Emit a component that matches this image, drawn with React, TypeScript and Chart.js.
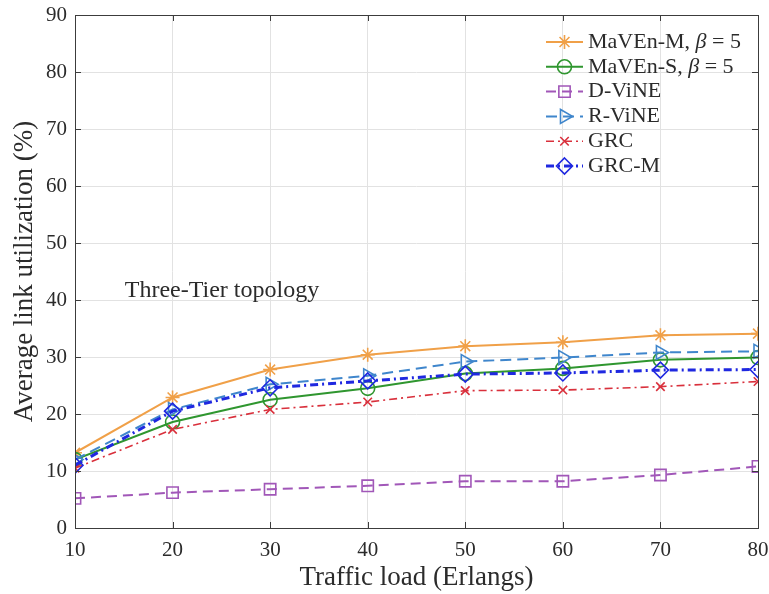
import React, { useEffect, useRef } from "react";
import { Chart, registerables } from "chart.js";

Chart.register(...registerables);

// Traffic load (Erlangs) on the x axis
const loads = [10, 20, 30, 40, 50, 60, 70, 80];

// Average link utilization (%) per algorithm
const mavenM = [13.2, 22.9, 27.8, 30.4, 31.9, 32.6, 33.8, 34.1];
const mavenS = [12.0, 18.6, 22.5, 24.5, 27.1, 28.0, 29.5, 29.9];
const dVine = [5.2, 6.2, 6.8, 7.4, 8.2, 8.2, 9.3, 10.8];
const rVine = [12.0, 20.8, 25.2, 26.7, 29.2, 29.9, 30.8, 31.0];
const grc = [10.5, 17.3, 20.8, 22.1, 24.1, 24.2, 24.8, 25.7];
const grcM = [11.0, 20.5, 24.6, 25.8, 27.0, 27.2, 27.7, 27.8];

const seriesLabels = ["MaVEn-M, β = 5", "MaVEn-S, β = 5", "D-ViNE", "R-ViNE", "GRC", "GRC-M"];
const seriesValues = [mavenM, mavenS, dVine, rVine, grc, grcM];

const yTickValues = [0, 10, 20, 30, 40, 50, 60, 70, 80, 90];
const xTickValues = loads;

const annotationText = "Three-Tier topology";
const xTitle = "Traffic load (Erlangs)";
const yTitle = "Average link utilization (%)";

const FONT = "'Liberation Serif', 'DejaVu Serif', serif";
const TEXT = "#2b2b2b";
const GRID = "#e2e2e2";
const FRAME = "#3c3c3c";

type Style = {
  color: string;
  dash: number[];
  width: number;
  marker: string;
  radius: number;
  rotation: number;
};

const styles: Style[] = [
  { color: "#f0a048", dash: [], width: 2, marker: "star", radius: 7, rotation: 0 },
  { color: "#2f962f", dash: [], width: 2, marker: "circle", radius: 7, rotation: 0 },
  { color: "#a157b8", dash: [10, 6], width: 2, marker: "rect", radius: 8, rotation: 0 },
  { color: "#3f86cc", dash: [11, 6], width: 2, marker: "triangle", radius: 8, rotation: 90 },
  { color: "#d9303c", dash: [8, 4, 2, 4], width: 1.6, marker: "crossRot", radius: 6, rotation: 0 },
  { color: "#1f28e0", dash: [8, 4, 2, 4], width: 3, marker: "rectRot", radius: 8, rotation: 0 },
];

function drawMarker(ctx: CanvasRenderingContext2D, s: Style, x: number, y: number) {
  const r = s.radius;
  ctx.beginPath();
  switch (s.marker) {
    case "circle":
      ctx.arc(x, y, r, 0, Math.PI * 2);
      break;
    case "rect": {
      const h = r * Math.SQRT1_2;
      ctx.rect(x - h, y - h, 2 * h, 2 * h);
      break;
    }
    case "rectRot":
      ctx.moveTo(x, y - r);
      ctx.lineTo(x + r, y);
      ctx.lineTo(x, y + r);
      ctx.lineTo(x - r, y);
      ctx.closePath();
      break;
    case "triangle":
      ctx.moveTo(x + r, y);
      ctx.lineTo(x - r / 2, y - r * 0.866);
      ctx.lineTo(x - r / 2, y + r * 0.866);
      ctx.closePath();
      break;
    case "crossRot": {
      const d = r * Math.SQRT1_2;
      ctx.moveTo(x - d, y - d);
      ctx.lineTo(x + d, y + d);
      ctx.moveTo(x - d, y + d);
      ctx.lineTo(x + d, y - d);
      break;
    }
    case "star": {
      const d = r * Math.SQRT1_2;
      ctx.moveTo(x - r, y);
      ctx.lineTo(x + r, y);
      ctx.moveTo(x, y - r);
      ctx.lineTo(x, y + r);
      ctx.moveTo(x - d, y - d);
      ctx.lineTo(x + d, y + d);
      ctx.moveTo(x - d, y + d);
      ctx.lineTo(x + d, y - d);
      break;
    }
  }
  ctx.stroke();
}

// Box frame with inward tick marks, axis titles, legend and in-plot caption
const decorPlugin = {
  id: "decor",
  afterDatasetsDraw(chart: any) {
    const ctx: CanvasRenderingContext2D = chart.ctx;
    const { left, right, top, bottom } = chart.chartArea;
    const xs = chart.scales.x;
    const ys = chart.scales.y;
    ctx.save();

    // frame
    ctx.strokeStyle = FRAME;
    ctx.lineWidth = 1;
    ctx.setLineDash([]);
    ctx.strokeRect(Math.round(left) + 0.5, Math.round(top) + 0.5, Math.round(right - left), Math.round(bottom - top));

    // inward ticks on all four sides
    const tl = 6;
    ctx.beginPath();
    xTickValues.forEach((v) => {
      const px = Math.round(xs.getPixelForValue(v)) + 0.5;
      ctx.moveTo(px, bottom);
      ctx.lineTo(px, bottom - tl);
      ctx.moveTo(px, top);
      ctx.lineTo(px, top + tl);
    });
    yTickValues.forEach((v) => {
      const py = Math.round(ys.getPixelForValue(v)) + 0.5;
      ctx.moveTo(left, py);
      ctx.lineTo(left + tl, py);
      ctx.moveTo(right, py);
      ctx.lineTo(right - tl, py);
    });
    ctx.stroke();

    // axis titles
    ctx.fillStyle = TEXT;
    ctx.font = `27px ${FONT}`;
    ctx.textAlign = "center";
    ctx.textBaseline = "middle";
    ctx.fillText(xTitle, (left + right) / 2, 578);
    ctx.save();
    ctx.translate(25, (top + bottom) / 2);
    ctx.rotate(-Math.PI / 2);
    ctx.fillText(yTitle, 0, 0);
    ctx.restore();

    // caption inside the plot
    ctx.font = `24px ${FONT}`;
    ctx.textAlign = "left";
    ctx.fillText(annotationText, xs.getPixelForValue(15.1), ys.getPixelForValue(41.6));

    // legend
    const lx0 = right - 212;
    const lx1 = right - 175;
    const mx = (lx0 + lx1) / 2;
    const tx = right - 170;
    const rowTop = top + 27;
    const rowGap = 24.8;
    const lf = 22;
    seriesLabels.forEach((label, i) => {
      const s = styles[i];
      const y = rowTop + i * rowGap;
      ctx.strokeStyle = s.color;
      ctx.lineWidth = s.width;
      ctx.setLineDash(s.dash);
      ctx.beginPath();
      ctx.moveTo(lx0, y);
      ctx.lineTo(lx1, y);
      ctx.stroke();
      ctx.setLineDash([]);
      ctx.lineWidth = 1.6;
      drawMarker(ctx, s, mx, y);

      ctx.fillStyle = TEXT;
      const parts = label.split("β");
      if (parts.length === 2) {
        ctx.font = `${lf}px ${FONT}`;
        ctx.fillText(parts[0], tx, y);
        let x = tx + ctx.measureText(parts[0]).width;
        ctx.font = `italic ${lf}px ${FONT}`;
        ctx.fillText("β", x, y);
        x += ctx.measureText("β").width;
        ctx.font = `${lf}px ${FONT}`;
        ctx.fillText(parts[1], x, y);
      } else {
        ctx.font = `${lf}px ${FONT}`;
        ctx.fillText(label, tx, y);
      }
    });
    ctx.restore();
  },
};

export default function App() {
  const canvasRef = useRef<HTMLCanvasElement | null>(null);

  useEffect(() => {
    const canvas = canvasRef.current;
    if (!canvas) return;

    const datasets = seriesValues.map((vals, i) => {
      const s = styles[i];
      return {
        label: seriesLabels[i],
        data: vals.map((v, j) => ({ x: loads[j], y: v })),
        borderColor: s.color,
        backgroundColor: "rgba(0,0,0,0)",
        borderWidth: s.width,
        borderDash: s.dash,
        pointStyle: s.marker,
        pointRadius: s.radius,
        pointRotation: s.rotation,
        pointBorderWidth: 1.6,
        pointBorderColor: s.color,
        pointBackgroundColor: "rgba(0,0,0,0)",
        tension: 0,
        fill: false,
        order: seriesValues.length - i,
      };
    });

    const chart = new Chart(canvas, {
      type: "line",
      data: { datasets },
      options: {
        animation: false,
        responsive: false,
        maintainAspectRatio: false,
        layout: { padding: { top: 15, right: 11, left: 0, bottom: 0 } },
        plugins: {
          legend: { display: false },
          tooltip: { enabled: false },
        },
        scales: {
          x: {
            type: "linear",
            min: 10,
            max: 80,
            afterBuildTicks: (scale: any) => {
              scale.ticks = xTickValues.map((v) => ({ value: v }));
            },
            ticks: {
              font: { family: FONT, size: 21 },
              color: TEXT,
              padding: 10,
              maxRotation: 0,
            },
            grid: { color: GRID, drawTicks: false, lineWidth: 1 },
            border: { display: false },
            title: { display: false },
            afterFit: (scale: any) => {
              scale.height = 66;
              scale.paddingLeft = 0;
              scale.paddingRight = 0;
            },
          },
          y: {
            type: "linear",
            min: 0,
            max: 90,
            afterBuildTicks: (scale: any) => {
              scale.ticks = yTickValues.map((v) => ({ value: v }));
            },
            ticks: {
              font: { family: FONT, size: 21 },
              color: TEXT,
              padding: 8,
            },
            grid: { color: GRID, drawTicks: false, lineWidth: 1 },
            border: { display: false },
            title: { display: false },
            afterFit: (scale: any) => {
              scale.width = 75;
              scale.paddingTop = 0;
              scale.paddingBottom = 0;
            },
          },
        },
      },
      plugins: [decorPlugin],
    });

    return () => chart.destroy();
  }, []);

  return (
    <div style={{ position: "fixed", left: 0, top: 0, width: 769, height: 594, background: "#ffffff" }}>
      <canvas ref={canvasRef} width={769} height={594} style={{ display: "block" }} />
    </div>
  );
}
